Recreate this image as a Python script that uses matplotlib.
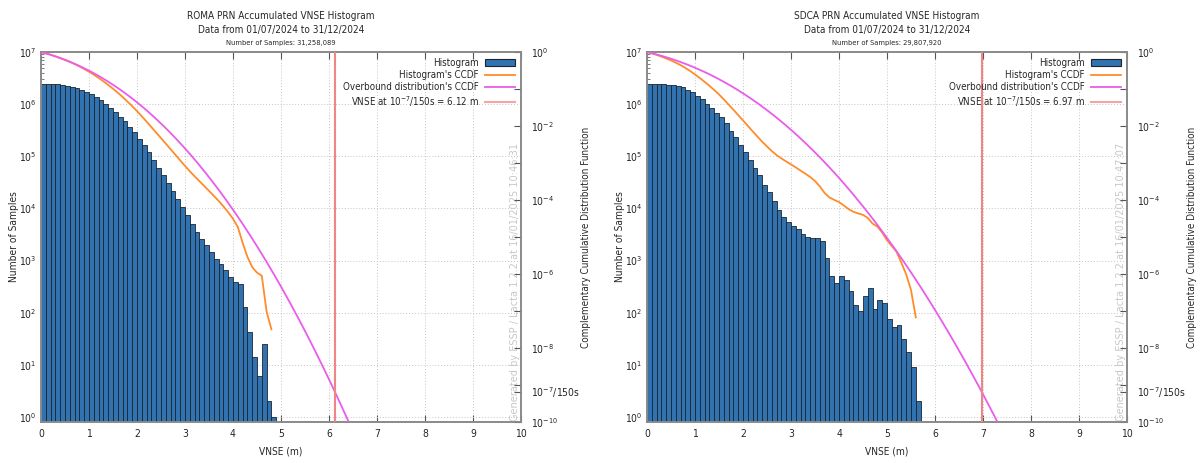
import math

import numpy as np
import matplotlib
matplotlib.use("Agg")
import matplotlib.pyplot as plt
from matplotlib.lines import Line2D
from matplotlib.patches import Patch
from matplotlib.ticker import FixedLocator, FixedFormatter, LogFormatterSciNotation, NullFormatter

plt.rcParams["font.family"] = ["DejaVu Sans"]
plt.rcParams["font.stretch"] = "condensed"

# Histogram bins are 0.1 m wide, starting at 0 m
BIN_WIDTH = 0.1

# Vertical Navigation System Error counts per bin
roma_counts = [
    2468390, 2460000, 2440000, 2400000, 2340000, 2240000, 2140000, 2020000,
    1880000, 1710000, 1540000, 1370000, 1210000, 1010000, 849000, 701000,
    579000, 465000, 362000, 286000, 216000, 161000, 120000, 83200,
    60300, 43000, 30600, 21500, 15400, 10600, 7370, 5100,
    3530, 2630, 1960, 1460, 1090, 849, 652, 486,
    390, 362, 129, 43, 14, 6, 25, 2,
    1,
]
sdca_counts = [
    2465141, 2460000, 2460000, 2430000, 2370000, 2300000, 2200000, 2110000,
    1900000, 1740000, 1460000, 1260000, 1010000, 836000, 681000, 562000,
    432000, 312000, 233000, 166000, 120000, 85700, 60300, 43000,
    28500, 20600, 13900, 9190, 6840, 5490, 4600, 4090,
    3280, 2830, 2750, 2750, 2340, 1120, 500, 378,
    500, 432, 258, 139, 109, 207, 291, 117,
    174, 150, 74, 52, 58, 31, 18, 9,
    2,
]

stations = ["ROMA", "SDCA"]
station_counts = [roma_counts, sdca_counts]
vnse_values = [6.12, 6.97]
generated_stamps = ["16/01/2025 10:46:31", "16/01/2025 10:47:07"]
period_start, period_end = "01/07/2024", "31/12/2024"
target_probability = 1e-7 / 150

x_ticks = list(range(0, 11))
count_decades = [1e0, 1e1, 1e2, 1e3, 1e4, 1e5, 1e6, 1e7]
ccdf_major = [1e0, 1e-2, 1e-4, 1e-6, 1e-8, 1e-10, target_probability]
ccdf_major_labels = [r"$10^{0}$", r"$10^{-2}$", r"$10^{-4}$", r"$10^{-6}$",
                     r"$10^{-8}$", r"$10^{-10}$", r"$10^{-7}$/150s"]
ccdf_minor = [1e-1, 1e-3, 1e-5, 1e-7, 1e-9]

BAR_BLUE = "#3172b1"
CCDF_ORANGE = "#ff8c2a"
OVERBOUND_MAGENTA = "#ea5cea"
VNSE_RED = "#f08585"
SPINE_GREY = "#8a8a8a"
GRID_GREY = "#c4c4c4"
TEXT = "#262626"

W, H = 1204, 463


def overbound_sigma(vnse, prob):
    """Sigma of the zero-mean two-sided Gaussian reaching `prob` at `vnse`."""
    lo, hi = 0.01, 10.0
    for _ in range(200):
        mid = 0.5 * (lo + hi)
        if math.erfc(vnse / (mid * math.sqrt(2.0))) > prob:
            hi = mid
        else:
            lo = mid
    return 0.5 * (lo + hi)


def draw_panel(fig, left_px, station, counts, vnse, stamp):
    rect = [left_px / W, 1 - 422 / H, 480 / W, 370 / H]
    ax = fig.add_axes(rect)
    counts = np.asarray(counts, dtype=float)
    edges = np.arange(len(counts)) * BIN_WIDTH
    total = int(counts.sum())

    ax.bar(edges, counts, width=BIN_WIDTH, align="edge", color=BAR_BLUE,
           edgecolor="#1b2430", linewidth=0.6, zorder=2)
    ax.set_yscale("log")
    ax.set_ylim(0.8, 1e7)
    ax.set_xlim(0, 10)
    ax.set_xticks(x_ticks)
    minor_counts = [m * d for d in count_decades[:-1] for m in range(2, 10)]
    ax.yaxis.set_major_locator(FixedLocator(count_decades))
    ax.yaxis.set_major_formatter(LogFormatterSciNotation())
    ax.yaxis.set_minor_locator(FixedLocator(minor_counts))
    ax.yaxis.set_minor_formatter(NullFormatter())
    ax.set_axisbelow(True)
    ax.grid(True, which="major", color=GRID_GREY, linestyle=(0, (1, 2)), linewidth=0.7)

    ax.tick_params(axis="x", which="both", direction="in", top=True, bottom=True,
                   length=5, width=0.8, color="#555555", labelsize=7.5,
                   labelcolor=TEXT, pad=5)
    ax.tick_params(axis="y", which="major", direction="in", left=True, right=False,
                   length=5, width=0.8, color="#555555", labelsize=7.5,
                   labelcolor=TEXT, pad=3)
    ax.tick_params(axis="y", which="minor", direction="in", left=True, right=False,
                   labelleft=False, length=2.5, width=0.6, color="#666666")

    for sp in ax.spines.values():
        sp.set_color(SPINE_GREY)
        sp.set_linewidth(1.2)

    # Complementary CDF axis on the right
    ax2 = ax.twinx()
    ax2.set_yscale("log")
    ax2.set_ylim(1e-10, 1)
    ax2.set_xlim(0, 10)
    ax2.yaxis.set_major_locator(FixedLocator(ccdf_major))
    ax2.yaxis.set_major_formatter(FixedFormatter(ccdf_major_labels))
    ax2.yaxis.set_minor_locator(FixedLocator(ccdf_minor))
    ax2.yaxis.set_minor_formatter(NullFormatter())
    ax2.tick_params(axis="y", which="major", direction="in", length=5, width=0.8,
                    color="#555555", labelsize=7.5, labelcolor=TEXT, pad=7)
    ax2.tick_params(axis="y", which="minor", direction="in", length=5, width=0.8,
                    color="#555555", labelright=False)
    for sp in ax2.spines.values():
        sp.set_color(SPINE_GREY)
        sp.set_linewidth(1.2)

    tail = np.cumsum(counts[::-1])[::-1] / counts.sum()
    ax2.plot(edges, tail, color=CCDF_ORANGE, linewidth=1.3, zorder=3)

    sigma = overbound_sigma(vnse, target_probability)
    xs = np.linspace(0, 10, 1001)
    overbound = np.array([math.erfc(x / (sigma * math.sqrt(2.0))) for x in xs])
    ax2.plot(xs, overbound, color=OVERBOUND_MAGENTA, linewidth=1.3, zorder=3)
    ax2.axvline(vnse, color=VNSE_RED, linewidth=1.5, zorder=3)

    handles = [
        Patch(facecolor=BAR_BLUE, edgecolor="#1b2430", linewidth=0.8),
        Line2D([], [], color=CCDF_ORANGE, linewidth=1.3),
        Line2D([], [], color=OVERBOUND_MAGENTA, linewidth=1.3),
        Line2D([], [], color="#f7a3a3", linewidth=1.5),
    ]
    labels = ["Histogram", "Histogram's CCDF", "Overbound distribution's CCDF",
              f"VNSE at $10^{{-7}}$/150s = {vnse:.2f} m"]
    leg = ax2.legend(handles, labels, loc="upper right", markerfirst=False,
                     frameon=False, fontsize=7,
                     handlelength=3.1, handleheight=0.75, handletextpad=0.6,
                     labelspacing=0.2, borderpad=0.25, borderaxespad=0.4)
    for t in leg.get_texts():
        t.set_color(TEXT)

    ax2.text(0.997, 0.004, f"Generated by ESSP / Lacta 1.2.2 at {stamp}",
             transform=ax2.transAxes, rotation=90, ha="right", va="bottom",
             fontsize=7.8, color="#c8c8c8", zorder=1)

    ax.text(0.5, 1.097, f"{station} PRN Accumulated VNSE Histogram",
            transform=ax.transAxes, ha="center", va="center", fontsize=7.2, color=TEXT)
    ax.text(0.5, 1.059, f"Data from {period_start} to {period_end}",
            transform=ax.transAxes, ha="center", va="center", fontsize=7.2, color=TEXT)
    ax.text(0.5, 1.024, f"Number of Samples: {total:,}",
            transform=ax.transAxes, ha="center", va="center", fontsize=5.4, color=TEXT)

    ax.text(-0.056, 0.5, "Number of Samples", transform=ax.transAxes,
            rotation=90, ha="center", va="center", fontsize=7.3, color=TEXT)
    ax.text(1.135, 0.5, "Complementary Cumulative Distribution Function",
            transform=ax.transAxes, rotation=90, ha="center", va="center",
            fontsize=7.1, color=TEXT)
    ax.text(0.5, -0.081, "VNSE (m)", transform=ax.transAxes, ha="center",
            va="center", fontsize=7.3, color=TEXT)
    return ax, ax2


fig = plt.figure(figsize=(W / 100, H / 100), dpi=100)
for left_px, station, counts, vnse, stamp in zip(
        [41, 647], stations, station_counts, vnse_values, generated_stamps):
    draw_panel(fig, left_px, station, counts, vnse, stamp)

fig.savefig("out.png", dpi=100, facecolor="white")
